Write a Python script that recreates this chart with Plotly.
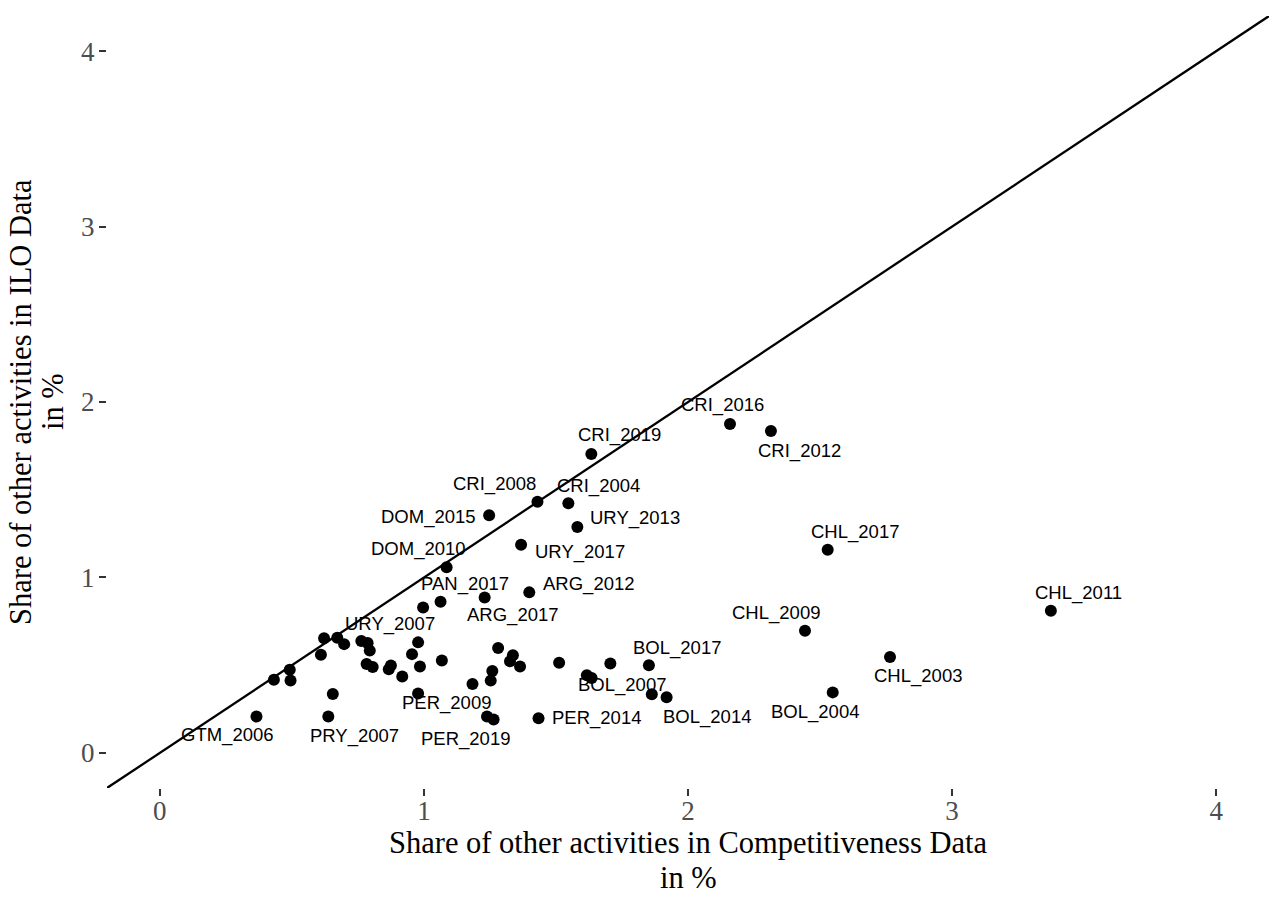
import plotly.graph_objects as go

# Share of other activities (%), Competitiveness data (x) vs ILO data (y)
x_comp = [0.366, 0.432, 0.492, 0.495, 0.610, 0.622, 0.672, 0.698, 0.655, 0.638,
          0.763, 0.787, 0.795, 0.783, 0.806, 0.867, 0.875, 0.918, 0.978, 0.955,
          0.985, 1.068, 0.978, 0.997, 1.063, 1.086, 1.230, 1.281, 1.337, 1.326,
          1.364, 1.259, 1.253, 1.184, 1.239, 1.264, 1.434, 1.512, 1.617, 1.635,
          1.706, 1.852, 1.863, 1.919, 2.548, 2.765, 2.443, 3.374, 2.529, 1.399,
          1.368, 1.581, 1.247, 1.430, 1.547, 1.634, 2.159, 2.314]
y_ilo = [0.208, 0.417, 0.474, 0.413, 0.560, 0.653, 0.657, 0.620, 0.336, 0.207,
         0.638, 0.626, 0.583, 0.507, 0.489, 0.477, 0.498, 0.436, 0.630, 0.563,
         0.493, 0.527, 0.338, 0.829, 0.862, 1.058, 0.886, 0.598, 0.557, 0.522,
         0.493, 0.467, 0.412, 0.393, 0.208, 0.191, 0.198, 0.514, 0.443, 0.427,
         0.510, 0.499, 0.334, 0.317, 0.345, 0.547, 0.696, 0.810, 1.158, 0.915,
         1.186, 1.287, 1.354, 1.431, 1.423, 1.703, 1.874, 1.835]
point_labels = ["GTM_2006", "", "", "", "", "", "", "", "", "PRY_2007",
                "URY_2007", "", "", "", "", "", "", "", "", "",
                "", "", "PER_2009", "", "PAN_2017", "DOM_2010", "ARG_2017", "", "", "",
                "", "", "", "", "", "PER_2019", "PER_2014", "", "", "BOL_2007",
                "", "BOL_2017", "", "BOL_2014", "BOL_2004", "CHL_2003", "CHL_2009", "CHL_2011", "CHL_2017", "ARG_2012",
                "URY_2017", "URY_2013", "DOM_2015", "CRI_2008", "CRI_2004", "CRI_2019", "CRI_2016", "CRI_2012"]
tick_values = [0, 1, 2, 3, 4]
axis_range = [-0.2, 4.2]

# label placement (pixel offsets from the point, right / down)
label_offsets = {
    "GTM_2006": (-29, 19), "PRY_2007": (26, 19), "URY_2007": (29, -17),
    "PER_2009": (28, 9), "PAN_2017": (24, -18), "DOM_2010": (-28, -18),
    "ARG_2017": (28, 18), "PER_2019": (-28, 20), "PER_2014": (58, 0),
    "BOL_2007": (30, 7), "BOL_2017": (28, -17), "BOL_2014": (40, 20),
    "BOL_2004": (-18, 20), "CHL_2003": (28, 19), "CHL_2009": (-29, -18),
    "CHL_2011": (28, -18), "CHL_2017": (27, -18), "ARG_2012": (60, -8),
    "URY_2017": (59, 7), "URY_2013": (58, -9), "DOM_2015": (-61, 2),
    "CRI_2008": (-43, -18), "CRI_2004": (30, -17), "CRI_2019": (28, -19),
    "CRI_2016": (-7, -19), "CRI_2012": (29, 20),
}

SERIF = "Liberation Serif, Times New Roman, serif"
SANS = "Liberation Sans, Arial, sans-serif"

fig = go.Figure()
# 45-degree reference line
fig.add_trace(go.Scatter(x=axis_range, y=axis_range, mode="lines",
                         line=dict(color="black", width=2.3),
                         hoverinfo="skip", showlegend=False))
fig.add_trace(go.Scatter(x=x_comp, y=y_ilo, mode="markers",
                         marker=dict(color="black", size=12),
                         showlegend=False))

annotations = []
for xv, yv, lab in zip(x_comp, y_ilo, point_labels):
    if not lab:
        continue
    dx, dy = label_offsets[lab]
    annotations.append(dict(x=xv, y=yv, xref="x", yref="y", text=lab,
                            showarrow=False, xshift=dx, yshift=-dy,
                            xanchor="center", yanchor="middle",
                            font=dict(family=SANS, size=18.5, color="black")))

title_font = dict(family=SERIF, size=30.5, color="black")
# axis titles
annotations += [
    dict(x=0.5, y=0, xref="paper", yref="paper", showarrow=False,
         xanchor="center", yanchor="middle",
         text="Share of other activities in Competitiveness Data",
         yshift=-55, font=title_font),
    dict(x=0.5, y=0, xref="paper", yref="paper", showarrow=False,
         xanchor="center", yanchor="middle",
         text="in %", yshift=-90, font=title_font),
    dict(x=0, y=0.5, xref="paper", yref="paper", showarrow=False,
         xanchor="center", yanchor="middle",
         text="Share of other activities in ILO Data", textangle=-90,
         xshift=-86, font=title_font),
    dict(x=0, y=0.5, xref="paper", yref="paper", showarrow=False,
         xanchor="center", yanchor="middle",
         text="in %", textangle=-90,
         xshift=-54, font=title_font),
]

axis_style = dict(range=axis_range, tickvals=tick_values, showgrid=False,
                  zeroline=False, showline=False, ticks="outside", ticklen=7,
                  tickwidth=1.5, tickcolor="#333333",
                  tickfont=dict(family=SERIF, size=27, color="#4d4d4d"))

fig.update_layout(
    width=1274, height=898,
    margin=dict(l=107, r=5, t=16, b=110),
    plot_bgcolor="white", paper_bgcolor="white",
    xaxis=dict(axis_style, ticklabelstandoff=-8),
    yaxis=dict(axis_style, ticklabelstandoff=-1),
    annotations=annotations,
    showlegend=False,
)

fig.write_html("out.html")
